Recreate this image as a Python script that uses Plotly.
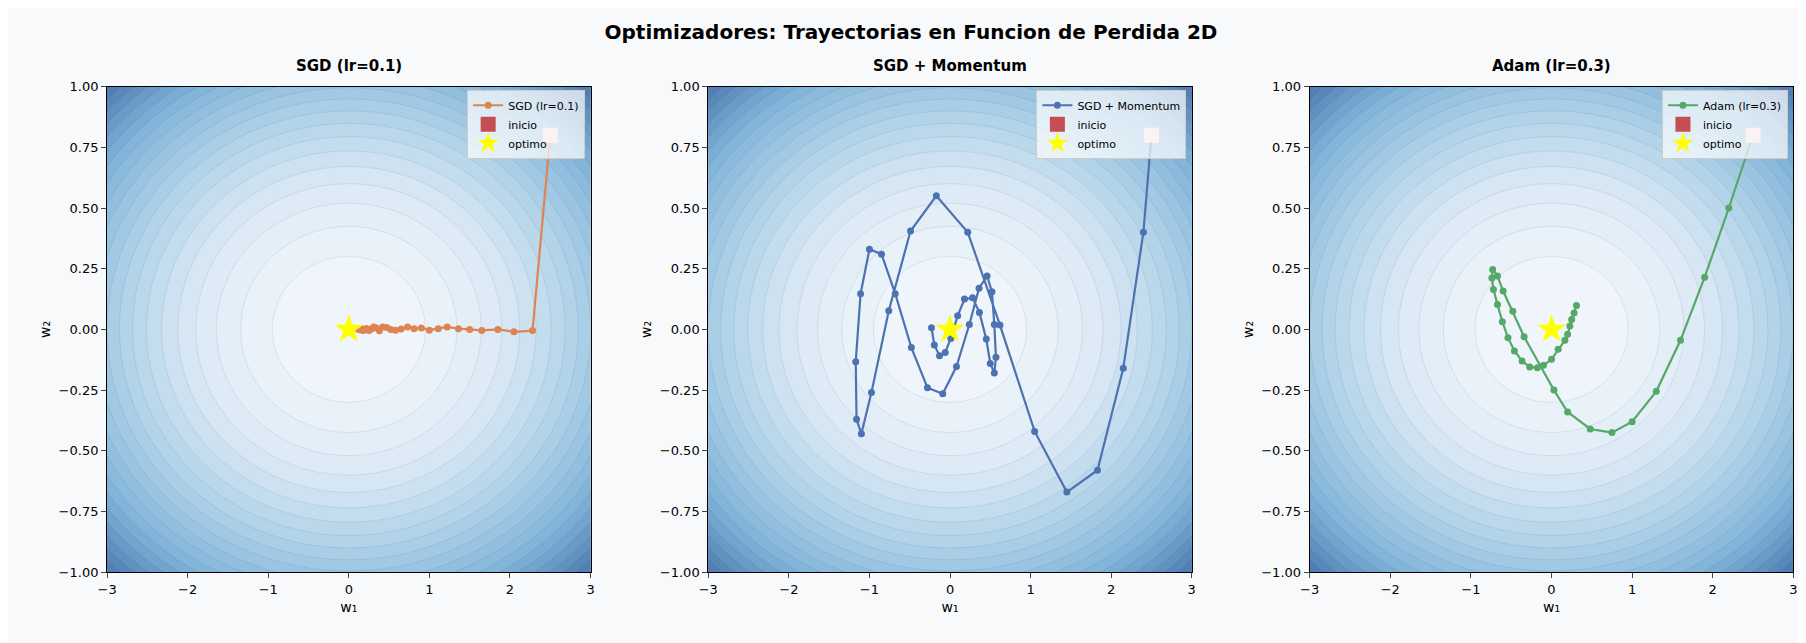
import numpy as np
import plotly.graph_objects as go

# ---- data ----
start = (2.5, 0.8)
optimum = (0.0, 0.0)

sgd_w1 = [2.5, 2.28, 2.05, 1.85, 1.65, 1.5, 1.36, 1.22, 1.11, 1.0, 0.9, 0.81, 0.73, 0.65, 0.58, 0.52,
          0.47, 0.42, 0.38, 0.34, 0.31, 0.28, 0.25, 0.22, 0.2, 0.18, 0.16, 0.15, 0.13, 0.12]
sgd_w2 = [0.8, -0.005, -0.01, 0.0, -0.004, 0.0, 0.003, 0.01, 0.003, -0.003, 0.006, 0.003, 0.01, 0.002,
          -0.003, 0.0, 0.008, 0.01, -0.006, 0.006, 0.01, 0.002, -0.004, 0.004, 0.0, -0.004, 0.003, -0.002, 0.002, 0.0]

mom_w1 = [2.5, 2.4, 2.15, 1.83, 1.45, 1.05, 0.62, 0.22, -0.17, -0.49, -0.76, -0.975, -1.10, -1.16, -1.17,
          -1.11, -1.0, -0.85, -0.68, -0.48, -0.28, -0.09, 0.08, 0.24, 0.36, 0.46, 0.52, 0.55, 0.57, 0.55,
          0.5, 0.45, 0.365, 0.28, 0.18, 0.095, 0.01, -0.06, -0.13, -0.195, -0.23]
mom_w2 = [0.8, 0.4, -0.16, -0.58, -0.67, -0.42, 0.018, 0.40, 0.55, 0.405, 0.077, -0.26, -0.43, -0.37, -0.133,
          0.147, 0.33, 0.31, 0.147, -0.075, -0.24, -0.265, -0.153, 0.02, 0.17, 0.22, 0.155, 0.02, -0.115, -0.18,
          -0.14, -0.04, 0.07, 0.13, 0.125, 0.056, -0.037, -0.095, -0.108, -0.064, 0.007]

adam_w1 = [2.5, 2.2, 1.9, 1.6, 1.3, 1.0, 0.75, 0.48, 0.2, 0.03, -0.34, -0.48, -0.60, -0.67, -0.73,
           -0.74, -0.72, -0.67, -0.61, -0.54, -0.46, -0.365, -0.27, -0.175, -0.10, 0.0, 0.083, 0.166,
           0.2, 0.228, 0.25, 0.28, 0.31]
adam_w2 = [0.8, 0.5, 0.215, -0.045, -0.255, -0.38, -0.425, -0.41, -0.34, -0.25, -0.03, 0.075, 0.158, 0.22, 0.247,
           0.212, 0.164, 0.103, 0.032, -0.034, -0.089, -0.13, -0.155, -0.158, -0.148, -0.123, -0.082, -0.045,
           -0.02, 0.014, 0.041, 0.068, 0.098]

titles = ["SGD (lr=0.1)", "SGD + Momentum", "Adam (lr=0.3)"]
colors = ["#dd8452", "#4c72b0", "#55a868"]
paths = [(sgd_w1, sgd_w2), (mom_w1, mom_w2), (adam_w1, adam_w2)]

gx = np.linspace(-3, 3, 300)
gy = np.linspace(-1, 1, 200)
GX, GY = np.meshgrid(gx, gy)
Z = 0.5 * GX**2 + 5 * GY**2

doms = [(0.0497, 0.3195), (0.3852, 0.655), (0.7208, 0.9907)]
ydom = (0.1127, 0.886)
cs = [[0, "#f4f8fc"], [0.2, "#dce9f5"], [0.45, "#aacfe6"], [0.7, "#80b3d8"], [1, "#4a74ab"]]

fig = go.Figure()
for i in range(3):
    xa = "x" if i == 0 else f"x{i+1}"
    ya = "y" if i == 0 else f"y{i+1}"
    lg = "legend" if i == 0 else f"legend{i+1}"
    fig.add_trace(go.Contour(x=gx, y=gy, z=Z, xaxis=xa, yaxis=ya, colorscale=cs, showscale=False,
                             contours=dict(start=0, end=9.6, size=0.45, coloring="fill"),
                             line=dict(width=0.5, color="rgba(40,90,160,0.22)"),
                             hoverinfo="skip", showlegend=False))
    w1, w2 = paths[i]
    fig.add_trace(go.Scatter(x=w1, y=w2, xaxis=xa, yaxis=ya, mode="lines+markers", name=titles[i],
                             line=dict(color=colors[i], width=2.2), marker=dict(size=7, color=colors[i]),
                             legend=lg))
    fig.add_trace(go.Scatter(x=[start[0]], y=[start[1]], xaxis=xa, yaxis=ya, mode="markers", name="inicio",
                             marker=dict(symbol="square", size=15, color="#f5d3d4"), showlegend=False))
    fig.add_trace(go.Scatter(x=[None], y=[None], xaxis=xa, yaxis=ya, mode="markers", name="inicio",
                             marker=dict(symbol="square", size=15, color="#c44e52"), legend=lg))
    fig.add_trace(go.Scatter(x=[optimum[0]], y=[optimum[1]], xaxis=xa, yaxis=ya, mode="markers", name="optimo",
                             marker=dict(symbol="star", size=22, color="yellow"), legend=lg))
    ax = dict(domain=doms[i], range=[-3, 3], dtick=1, ticks="outside", showgrid=False, zeroline=False,
              showline=True, mirror=True, linecolor="black", linewidth=1, tickfont=dict(size=13),
              title=dict(text="w₁", font=dict(size=14), standoff=6), anchor=ya)
    ay = dict(domain=ydom, range=[-1, 1], dtick=0.25, tickformat=".2f", ticks="outside", showgrid=False,
              zeroline=False, showline=True, mirror=True, linecolor="black", linewidth=1, tickfont=dict(size=13),
              title=dict(text="w₂", font=dict(size=14), standoff=4), anchor=xa)
    fig.layout["xaxis" if i == 0 else f"xaxis{i+1}"] = ax
    fig.layout["yaxis" if i == 0 else f"yaxis{i+1}"] = ay
    fig.layout[lg] = dict(x=doms[i][1] - 0.003, y=ydom[1] - 0.005, xanchor="right", yanchor="top",
                          bgcolor="rgba(255,255,255,0.7)", bordercolor="#cccccc", borderwidth=1,
                          font=dict(size=11), itemwidth=30, tracegroupgap=0)
    fig.add_annotation(text=f"<b>{titles[i]}</b>", x=(doms[i][0] + doms[i][1]) / 2, y=ydom[1] + 0.015,
                       xref="paper", yref="paper", xanchor="center", yanchor="bottom", showarrow=False,
                       font=dict(size=15, color="black"))

fig.update_layout(width=1806, height=643, paper_bgcolor="#f8f9fb", plot_bgcolor="#f8f9fb",
                  font=dict(family="DejaVu Sans", color="black"), margin=dict(l=0, r=0, t=0, b=0),
                  title=dict(text="<b>Optimizadores: Trayectorias en Funcion de Perdida 2D</b>", x=0.5,
                             y=0.962, yref="container", xanchor="center", yanchor="middle", font=dict(size=20)))
fig.write_html("out.html")
